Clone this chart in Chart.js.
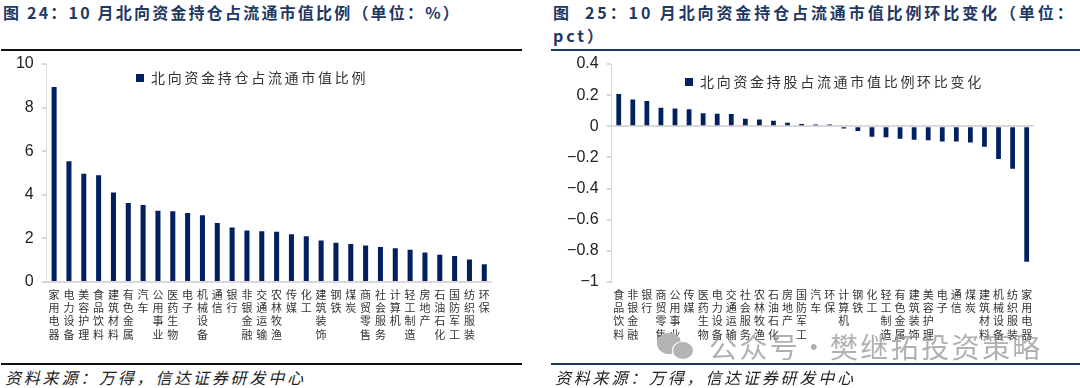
<!DOCTYPE html>
<html lang="zh">
<head>
<meta charset="UTF-8">
<title>北向资金持仓</title>
<script src="https://cdn.jsdelivr.net/npm/chart.js"></script>
<style>
    html, body { margin: 0; padding: 0; background: #fff; width: 1080px; height: 388px; overflow: hidden; }
    body { position: relative; font-family: "Noto Sans CJK SC", sans-serif; }
    .title { position: absolute; color: #1f3864; font-weight: 700; font-size: 16px; line-height: 23px; letter-spacing: 2.2px; }
    .rule { position: absolute; height: 2px; }
    .source { position: absolute; top: 366px; font-size: 16px; line-height: 22px; font-style: italic; color: #222; letter-spacing: 2.8px; white-space: nowrap; }
    .chart { position: absolute; top: 50px; height: 310px; }
    .mark { position: absolute; color: rgba(150,150,150,.75); font-size: 28px; line-height: 36px; top: 328px; left: 709px; letter-spacing: 2.4px; word-spacing: -9px; white-space: nowrap; }
    .bubble { position: absolute; border-radius: 50%; background: #b4b4b4; }
</style>
</head>
<body>
    <div class="title" style="left:3px;top:1px">图 24：10 月北向资金持仓占流通市值比例（单位：%）</div>
    <div class="rule" style="left:1px;top:49px;width:521px;background:#111"></div>
    <div class="chart" style="left:0;width:540px"><canvas id="left"></canvas></div>
    <div class="rule" style="left:1px;top:363px;width:521px;background:#111"></div>
    <div class="source" style="left:5px">资料来源：万得，信达证券研发中心</div>

    <div class="title" style="left:553px;top:1px;width:527px;letter-spacing:2.9px">图&nbsp; 25：10 月北向资金持仓占流通市值比例环比变化（单位：pct）</div>
    <div class="rule" style="left:551px;top:49px;width:529px;background:#1f3864"></div>
    <div class="chart" style="left:540px;width:540px"><canvas id="right"></canvas></div>
    <div class="rule" style="left:551px;top:363px;width:529px;background:#1f3864"></div>
    <div class="source" style="left:555px">资料来源：万得，信达证券研发中心</div>

    <div class="bubble" style="left:657px;top:333px;width:24px;height:21px"></div>
    <div class="bubble" style="left:672px;top:341px;width:20px;height:17px;border:1px solid #fff"></div>
    <div class="mark">公众号 · 樊继拓投资策略</div>

<script>
const leftCategories = ['家用电器','电力设备','美容护理','食品饮料','建筑材料','有色金属','汽车','公用事业','医药生物','电子','机械设备','通信','银行','非银金融','交通运输','农林牧渔','传媒','化工','建筑装饰','钢铁','煤炭','商贸零售','社会服务','计算机','轻工制造','房地产','石油石化','国防军工','纺织服装','环保'];
const leftValues = [8.95,5.54,4.96,4.9,4.1,3.62,3.53,3.27,3.24,3.17,3.06,2.71,2.5,2.36,2.33,2.31,2.19,2.1,1.9,1.8,1.74,1.67,1.61,1.55,1.48,1.35,1.25,1.19,1.03,0.81];
const rightCategories = ['食品饮料','非银金融','银行','商贸零售','公用事业','传媒','医药生物','电力设备','交通运输','社会服务','农林牧渔','石油石化','房地产','国防军工','汽车','环保','计算机','钢铁','化工','轻工制造','有色金属','建筑装饰','美容护理','电子','通信','煤炭','建筑材料','机械设备','纺织服装','家用电器'];
const rightValues = [0.208,0.172,0.162,0.119,0.115,0.11,0.083,0.08,0.079,0.049,0.043,0.036,0.023,0.014,0.012,0.011,-0.015,-0.03,-0.068,-0.07,-0.08,-0.087,-0.089,-0.098,-0.098,-0.104,-0.132,-0.21,-0.272,-0.87];
const leftLegend = '北向资金持仓占流通市值比例';
const rightLegend = '北向资金持股占流通市值比例环比变化';

const NAVY = '#002060';
const AXIS = '#d9d9d9';

// legend sits inside the plot at a fixed spot, with spaced out characters
function placeLegend(x, y) {
    return {
        id: 'placeLegend',
        afterLayout(chart) {
            const legend = chart.legend;
            legend.left = x;
            legend.right = x + 400;
            legend.top = y;
            if (!legend.spaced) {
                const draw = legend.draw;
                legend.draw = function () {
                    chart.ctx.letterSpacing = '2.7px';
                    draw.call(this);
                    chart.ctx.letterSpacing = '0px';
                };
                legend.spaced = true;
            }
        }
    };
}

function makeChart(id, categories, values, label, yOpts, pad, legendPos) {
    new Chart(document.getElementById(id), {
        type: 'bar',
        data: {
            labels: categories.map(c => c.split('')),
            datasets: [{ label: label, data: values, backgroundColor: NAVY, categoryPercentage: 1, barPercentage: 0.34 }]
        },
        options: {
            responsive: true,
            maintainAspectRatio: false,
            animation: false,
            layout: { padding: pad },
            plugins: {
                tooltip: { enabled: false },
                legend: {
                    position: 'chartArea',
                    align: 'start',
                    labels: {
                        boxWidth: 8, boxHeight: 8, padding: 0, color: '#333',
                        font: { family: '"Noto Sans CJK SC"', size: 14 }
                    }
                }
            },
            scales: {
                x: {
                    grid: { display: false, drawTicks: false },
                    border: { display: false },
                    afterFit(s) { s.height = 78; },
                    ticks: {
                        autoSkip: false, maxRotation: 0, minRotation: 0, padding: 6, color: '#333',
                        font: { family: '"Noto Sans CJK SC"', size: 11, lineHeight: 1.21 }
                    }
                },
                y: Object.assign({
                    // the only grid line is the zero line, it works as the category axis
                    grid: { color: c => c.tick.value === 0 ? AXIS : 'transparent', lineWidth: 2, tickColor: AXIS, tickLength: 5 },
                    border: { color: AXIS, width: 1 },
                    ticks: {
                        padding: 8, color: '#222',
                        font: { family: '"Liberation Sans"', size: 16 },
                        callback: v => String(Math.round(v * 10) / 10).replace('-', '−')
                    }
                }, yOpts)
            }
        },
        plugins: [placeLegend(legendPos[0], legendPos[1])]
    });
}

makeChart('left', leftCategories, leftValues, leftLegend,
    { min: 0, max: 10, afterFit(s) { s.width = 46.7; s.paddingTop = 0; s.paddingBottom = 0; }, afterBuildTicks(s) { s.ticks = s.ticks.filter(t => t.value % 2 === 0); } },
    { left: 0, right: 48.3, top: 14, bottom: 0 }, [136, 21]);

makeChart('right', rightCategories, rightValues, rightLegend,
    { min: -1, max: 0.4, afterFit(s) { s.width = 71.7; s.paddingTop = 0; s.paddingBottom = 0; } },
    { left: 0, right: 46.3, top: 14, bottom: 0 }, [145, 25]);
</script>
</body>
</html>
